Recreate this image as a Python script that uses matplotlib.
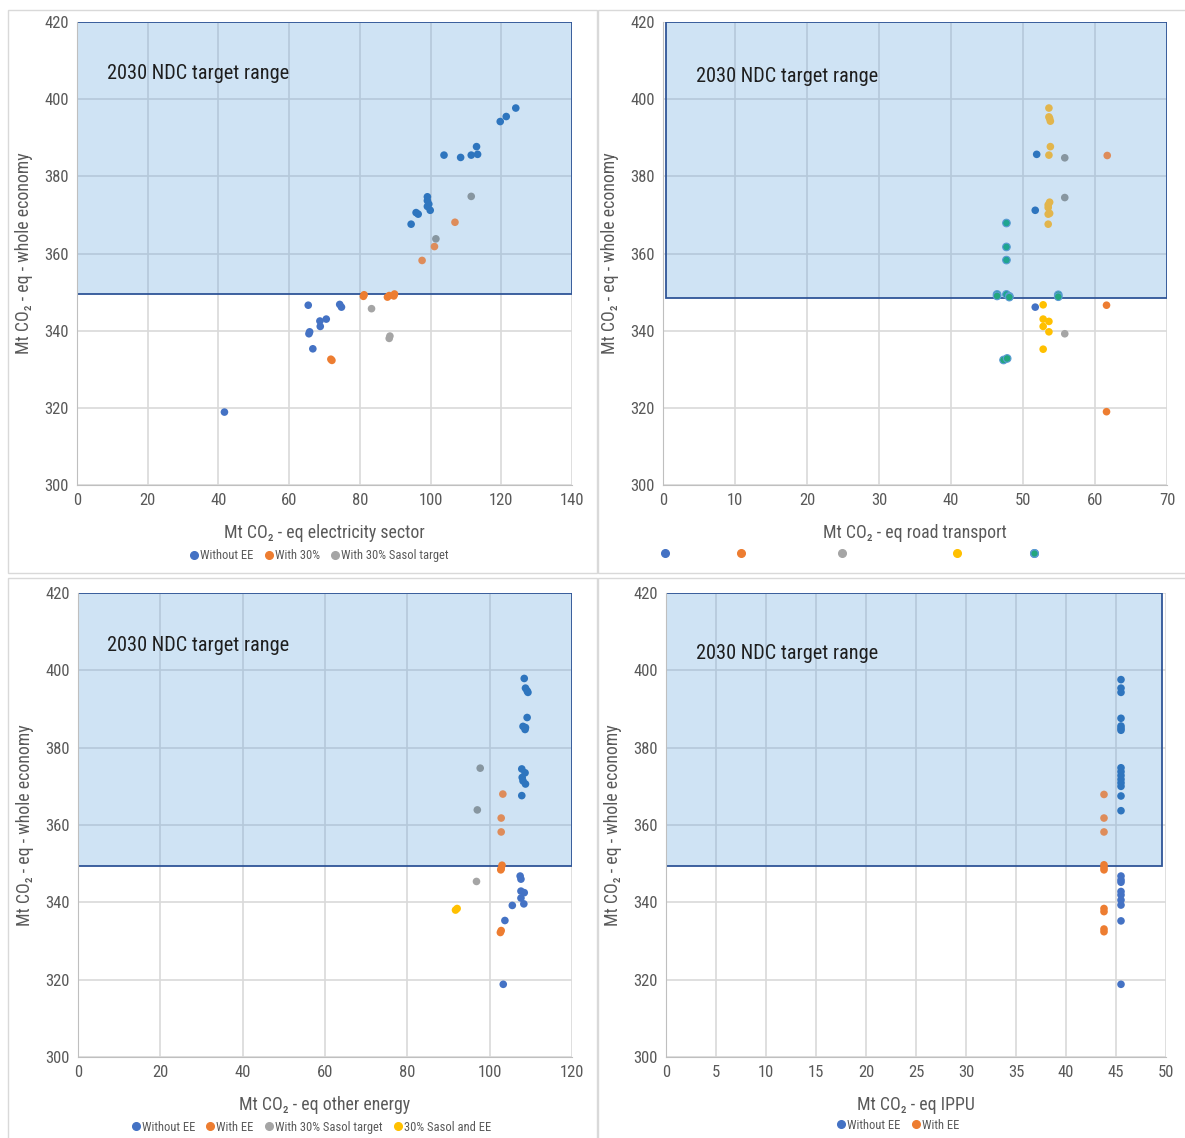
import matplotlib.pyplot as plt
from matplotlib import font_manager
from matplotlib.patches import Rectangle
from matplotlib.lines import Line2D

# pick a narrow font if one is around, the original uses Arial Narrow-like text
_fonts = {(f.name, f.stretch) for f in font_manager.fontManager.ttflist}
_names = {n for n, _ in _fonts}
K = 1.0
if 'Roboto Condensed' in _names:
    plt.rcParams['font.family'] = ['Roboto Condensed', 'DejaVu Sans']
elif 'Liberation Sans Narrow' in _names:
    plt.rcParams['font.family'] = ['Liberation Sans Narrow', 'DejaVu Sans']
else:
    plt.rcParams['font.family'] = ['Liberation Sans', 'DejaVu Sans']
    K = 0.86

# colours (Excel defaults); *_IN is how they look under the blue target box
BLUE, BLUE_IN = '#4472C4', '#2E75BE'
ORANGE, ORANGE_IN = '#ED7D31', '#DE8C5A'
GREY, GREY_IN = '#A5A5A5', '#8796A0'
GOLD, GOLD_IN = '#FFC000', '#E2B54C'
TEAL, TEAL_IN = '#22A77E', '#1FA590'
TEAL_EDGE = '#5B9BD5'

Y_LABEL = 'Mt CO\u2082 - eq - whole economy'

# ---- electricity sector ----
elec_wo_x = [41.7, 65.4, 65.8, 65.6, 66.7, 68.7, 68.8, 70.5, 74.3, 74.8, 94.5, 95.9, 96.5,
             99.1, 99.1, 99.5, 99.1, 99.9, 103.8, 108.5, 111.5, 113.3, 113.0, 119.7, 121.4, 124.1]
elec_wo_y = [318.9, 346.6, 339.7, 339.2, 335.3, 342.5, 341.1, 343.0, 346.8, 346.1, 367.6, 370.6, 370.2,
             374.7, 373.7, 372.8, 372.2, 371.2, 385.5, 384.9, 385.5, 385.7, 387.7, 394.2, 395.5, 397.7]
elec_30_x = [71.8, 72.1, 81.0, 81.2, 87.8, 88.3, 89.6, 89.8, 97.6, 101.1, 106.9]
elec_30_y = [332.6, 332.3, 348.9, 349.3, 348.7, 349.1, 349.0, 349.5, 358.2, 361.8, 368.1]
elec_sasol_x = [83.3, 88.3, 88.5, 101.5, 111.5]
elec_sasol_y = [345.7, 338.0, 338.6, 363.8, 374.8]

# ---- road transport ----
road_blue_x = [51.9, 51.7, 51.7]
road_blue_y = [385.7, 371.2, 346.1]
road_orange_x = [61.7, 61.6, 61.6]
road_orange_y = [385.4, 346.6, 319.0]
road_grey_x = [55.8, 55.8, 55.8]
road_grey_y = [384.8, 374.5, 339.2]
road_gold_x = [53.6, 53.6, 53.7, 53.8, 53.8, 53.6, 53.7, 53.5, 53.5, 53.7, 53.5, 53.5,
               52.8, 52.8, 53.6, 52.8, 53.6, 52.8]
road_gold_y = [397.7, 395.4, 395.0, 394.3, 387.7, 385.5, 373.3, 372.6, 371.9, 370.4, 370.2, 367.6,
               346.7, 343.0, 342.4, 341.1, 339.7, 335.2]
road_teal_x = [47.7, 47.7, 47.7, 46.4, 46.4, 47.7, 48.1, 48.1, 54.9, 54.9, 47.3, 47.8]
road_teal_y = [367.9, 361.7, 358.3, 349.4, 349.0, 349.4, 348.9, 348.7, 349.3, 348.8, 332.4, 332.8]

# ---- other energy ----
oth_wo_x = [108.4, 108.7, 109.1, 109.3, 109.1, 108.1, 108.7, 108.6, 107.8, 108.6, 107.9, 108.1,
            108.7, 107.8, 107.4, 107.6, 107.6, 108.4, 107.6, 108.3, 105.5, 103.7, 103.3]
oth_wo_y = [397.9, 395.4, 394.7, 394.3, 387.8, 385.5, 385.2, 384.7, 374.5, 373.5, 372.3, 371.4,
            370.6, 367.6, 346.8, 346.0, 342.9, 342.5, 341.1, 339.6, 339.2, 335.3, 318.8]
oth_ee_x = [103.2, 102.8, 102.8, 103.0, 102.8, 102.7, 102.8, 102.6]
oth_ee_y = [368.0, 361.8, 358.2, 349.6, 348.7, 348.4, 332.7, 332.2]
oth_sasol_x = [97.7, 97.0, 96.8]
oth_sasol_y = [374.7, 363.9, 345.4]
oth_sasol_ee_x = [91.7, 92.1]
oth_sasol_ee_y = [338.0, 338.4]

# ---- IPPU ----
ippu_wo_y = [397.6, 395.4, 394.3, 387.6, 385.6, 385.0, 384.5, 374.8, 373.8, 372.8, 371.8, 370.9,
             370.0, 367.5, 363.7, 346.8, 345.8, 345.2, 342.8, 341.9, 340.6, 339.3, 335.2, 318.8]
ippu_wo_x = [45.5] * len(ippu_wo_y)
ippu_ee_y = [367.9, 361.8, 358.2, 349.7, 349.0, 348.4, 338.4, 337.6, 333.1, 332.4]
ippu_ee_x = [43.8] * len(ippu_ee_y)

fig = plt.figure(figsize=(11.85, 11.38), dpi=100)

# light frames around each chart
for (x0, y0, x1, y1) in [(8, 10, 597, 573), (598, 10, 1190, 573),
                         (8, 578, 597, 1145), (598, 578, 1190, 1145)]:
    fig.patches.append(Rectangle((x0 / 1185, 1 - y1 / 1138), (x1 - x0) / 1185, (y1 - y0) / 1138,
                                 transform=fig.transFigure, fill=False, edgecolor='#D9D9D9', lw=1))

PT = 30


def dots(ax, xs, ys, col, col_in, y0, edge=None):
    # points inside the target box look tinted by it
    cols = [col_in if y > y0 + 0.8 else col for y in ys]
    ax.scatter(xs, ys, s=PT, c=cols, lw=0.8 if edge else 0, edgecolors=edge or 'none', zorder=3)


def setup(ax, xmax, xstep, xlabel, rect_x0, rect_x1, rect_y0, text_pos):
    ax.set_xlim(0, xmax)
    ax.set_ylim(300, 420)
    ax.set_xticks(range(0, xmax + 1, xstep))
    ax.set_yticks(range(300, 421, 20))
    ax.grid(True, color='#D9D9D9', lw=1.2)
    ax.set_axisbelow(True)
    for s in ['top', 'right']:
        ax.spines[s].set_visible(False)
    for s in ['left', 'bottom']:
        ax.spines[s].set_color('#BFBFBF')
    ax.tick_params(length=0, labelsize=12 * K, labelcolor='#595959', pad=6)
    ax.set_xlabel(xlabel, fontsize=12.8 * K, color='#595959', labelpad=11)
    ax.set_ylabel(Y_LABEL, fontsize=12.8 * K, color='#595959', labelpad=8)
    # target range box
    ax.add_patch(Rectangle((rect_x0, rect_y0), rect_x1 - rect_x0, 420 - rect_y0,
                           facecolor='#62A3DC', alpha=0.3, edgecolor='none', zorder=1.5))
    ax.add_patch(Rectangle((rect_x0, rect_y0), rect_x1 - rect_x0, 420 - rect_y0,
                           fill=False, edgecolor='#2F5597', lw=1.3, zorder=2))
    ax.text(text_pos[0], text_pos[1], '2030 NDC target range', transform=ax.transAxes,
            fontsize=14.6 * K, color='#1E1E1E', ha='left', va='center', zorder=7)


def handle(color, edge=None):
    return Line2D([], [], ls='none', marker='o', markersize=5.5, markerfacecolor=color,
                  markeredgecolor=edge or color)


leg_kw = dict(frameon=False, ncol=5, fontsize=9.0 * K, handletextpad=0.0, columnspacing=0.7,
              labelcolor='#595959', handlelength=1.0, loc='center', borderpad=0)

# panel 1
ax1 = fig.add_axes([77 / 1185, 1 - 485 / 1138, 495 / 1185, 463 / 1138])
dots(ax1, elec_wo_x, elec_wo_y, BLUE, BLUE_IN, 349.5)
dots(ax1, elec_30_x, elec_30_y, ORANGE, ORANGE_IN, 349.5)
dots(ax1, elec_sasol_x, elec_sasol_y, GREY, GREY_IN, 349.5)
setup(ax1, 140, 20, 'Mt CO\u2082 - eq electricity sector', 0, 140, 349.5, (0.061, 0.888))
ax1.legend([handle(BLUE), handle(ORANGE), handle(GREY)],
           ['Without EE', 'With 30%', 'With 30% Sasol target'],
           bbox_to_anchor=(0.487, -0.153), **leg_kw)

# panel 2
ax2 = fig.add_axes([663 / 1185, 1 - 485 / 1138, 504 / 1185, 463 / 1138])
dots(ax2, road_blue_x, road_blue_y, BLUE, BLUE_IN, 348.5)
dots(ax2, road_orange_x, road_orange_y, ORANGE, ORANGE_IN, 348.5)
dots(ax2, road_grey_x, road_grey_y, GREY, GREY_IN, 348.5)
dots(ax2, road_gold_x, road_gold_y, GOLD, GOLD_IN, 348.5)
dots(ax2, road_teal_x, road_teal_y, TEAL, TEAL_IN, 348.5, edge=TEAL_EDGE)
setup(ax2, 70, 10, 'Mt CO\u2082 - eq road transport', 0.4, 70, 348.5, (0.065, 0.883))
# the series names are missing in the original, only the markers are shown
road_handles = [handle(BLUE), handle(ORANGE), handle(GREY), handle(GOLD), handle(TEAL, TEAL_EDGE)]
road_leg_x = [0.004, 0.155, 0.355, 0.583, 0.736]
for h, lx in zip(road_handles, road_leg_x):
    lg = ax2.legend([h], [''], frameon=False, handlelength=1.0, handletextpad=0, borderpad=0,
                    loc='center', bbox_to_anchor=(lx, -0.148))
    ax2.add_artist(lg)

# panel 3
ax3 = fig.add_axes([78 / 1185, 1 - 1057 / 1138, 494 / 1185, 464 / 1138])
dots(ax3, oth_wo_x, oth_wo_y, BLUE, BLUE_IN, 349.5)
dots(ax3, oth_ee_x, oth_ee_y, ORANGE, ORANGE_IN, 349.5)
dots(ax3, oth_sasol_x, oth_sasol_y, GREY, GREY_IN, 349.5)
dots(ax3, oth_sasol_ee_x, oth_sasol_ee_y, GOLD, GOLD_IN, 349.5)
setup(ax3, 120, 20, 'Mt CO\u2082 - eq other energy', 0, 120, 349.5, (0.059, 0.886))
ax3.legend([handle(BLUE), handle(ORANGE), handle(GREY), handle(GOLD)],
           ['Without EE', 'With EE', 'With 30% Sasol target', '30% Sasol and EE'],
           bbox_to_anchor=(0.47, -0.151), **leg_kw)

# panel 4
ax4 = fig.add_axes([666 / 1185, 1 - 1057 / 1138, 500 / 1185, 464 / 1138])
dots(ax4, ippu_wo_x, ippu_wo_y, BLUE, BLUE_IN, 349.5)
dots(ax4, ippu_ee_x, ippu_ee_y, ORANGE, ORANGE_IN, 349.5)
setup(ax4, 50, 5, 'Mt CO\u2082 - eq IPPU', 0, 49.6, 349.5, (0.06, 0.869))
ax4.legend([handle(BLUE), handle(ORANGE)], ['Without EE', 'With EE'],
           bbox_to_anchor=(0.462, -0.147), **leg_kw)

fig.savefig('out.png', dpi=100)
